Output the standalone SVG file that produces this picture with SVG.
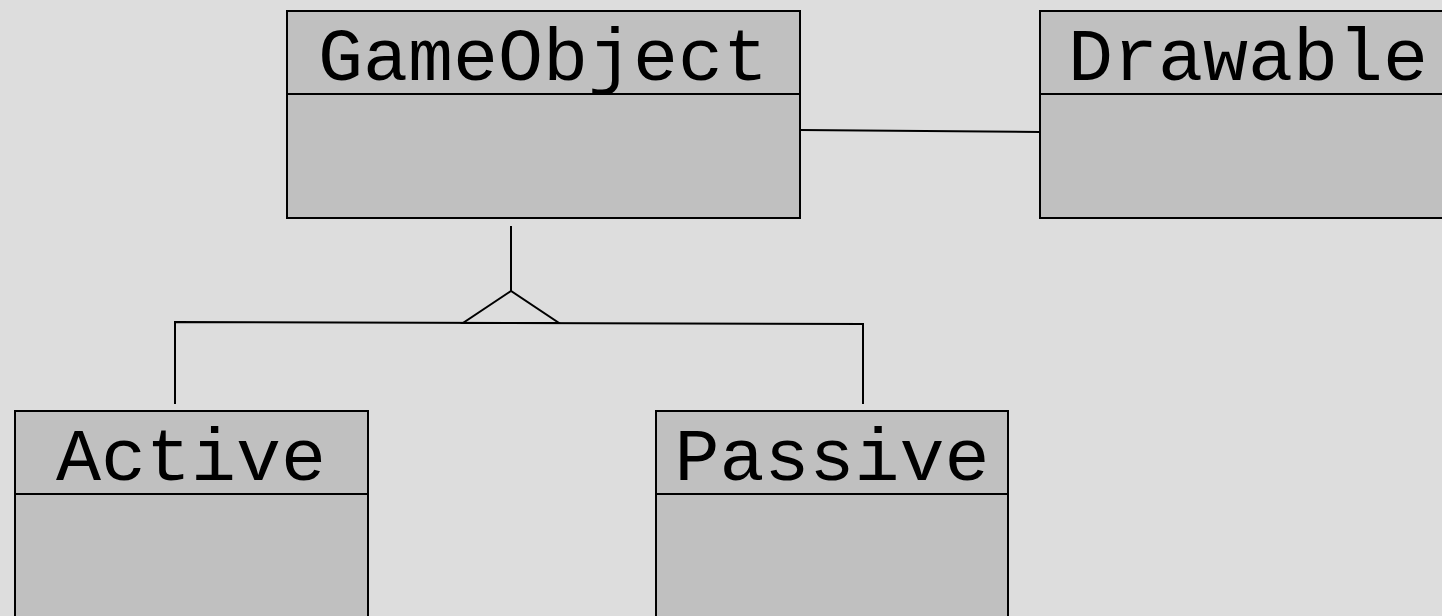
<svg xmlns="http://www.w3.org/2000/svg" width="1442" height="616" viewBox="0 0 1442 616">
<style>
.box{fill:#c0c0c0;stroke:#000;stroke-width:2}
.div{stroke:#000;stroke-width:2}
.lbl{font-family:"Liberation Mono","Courier New",monospace;font-size:75px;fill:#000;text-anchor:middle}
.conn{fill:none;stroke:#000;stroke-width:2}
</style>
<rect width="1442" height="616" fill="#dddddd"/>
<g id="connectors">
<line class="conn" x1="800" y1="130" x2="1040" y2="132"/>
<line class="conn" x1="511" y1="226" x2="511" y2="291"/>
<polygon class="conn" points="511,291 463,323 559,323"/>
<polyline class="conn" points="175,404 175,322 863,324 863,404"/>
</g>
<g id="GameObject">
<rect class="box" x="287" y="11" width="513" height="207"/>
<line class="div" x1="287" y1="94" x2="800" y2="94"/>
<text class="lbl" x="543" y="80">GameObject</text>
</g>
<g id="Drawable">
<rect class="box" x="1040" y="11" width="420" height="207"/>
<line class="div" x1="1040" y1="94" x2="1460" y2="94"/>
<text class="lbl" x="1248" y="80">Drawable</text>
</g>
<g id="Active">
<rect class="box" x="15" y="411" width="353" height="220"/>
<line class="div" x1="15" y1="494" x2="368" y2="494"/>
<text class="lbl" x="191" y="480">Active</text>
</g>
<g id="Passive">
<rect class="box" x="656" y="411" width="352" height="220"/>
<line class="div" x1="656" y1="494" x2="1008" y2="494"/>
<text class="lbl" x="832" y="480">Passive</text>
</g>
</svg>
